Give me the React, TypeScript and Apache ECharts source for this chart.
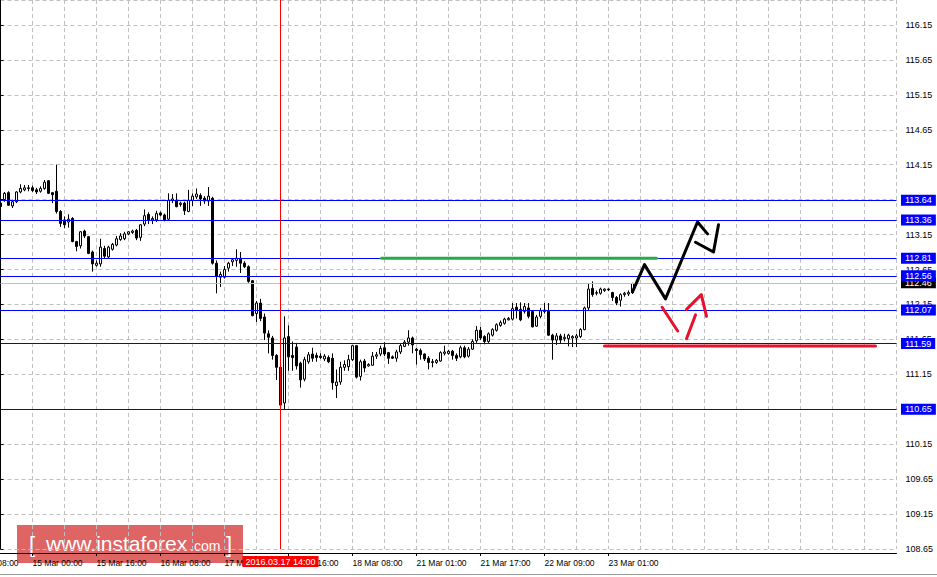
import React, { useEffect, useRef } from "react";
import * as echarts from "echarts";

// Hourly bars: [open, high, low, close]
const ohlc: [number, number, number, number][] = [
  [113.60, 113.63, 113.53, 113.55], [113.65, 113.76, 113.62, 113.74], [113.75, 113.77, 113.56, 113.57], [113.56, 113.65, 113.53, 113.62],
  [113.62, 113.77, 113.60, 113.76], [113.76, 113.87, 113.74, 113.81], [113.79, 113.86, 113.77, 113.82], [113.81, 113.86, 113.77, 113.82],
  [113.82, 113.85, 113.76, 113.78], [113.79, 113.82, 113.73, 113.76], [113.77, 113.84, 113.75, 113.81], [113.81, 113.93, 113.79, 113.90],
  [113.92, 113.93, 113.73, 113.74], [113.75, 113.76, 113.60, 113.72], [113.77, 114.15, 113.45, 113.48], [113.48, 113.50, 113.26, 113.31],
  [113.36, 113.41, 113.24, 113.29], [113.33, 113.44, 113.25, 113.37], [113.38, 113.40, 113.04, 113.05], [113.05, 113.06, 112.91, 112.98],
  [112.99, 113.20, 112.95, 113.19], [113.20, 113.22, 113.10, 113.13], [113.12, 113.13, 112.87, 112.88], [112.90, 112.92, 112.62, 112.73],
  [112.71, 112.78, 112.69, 112.74], [112.73, 113.09, 112.69, 112.97], [112.95, 112.99, 112.80, 112.84], [112.83, 112.99, 112.81, 112.97],
  [112.94, 113.03, 112.92, 113.01], [113.00, 113.13, 112.98, 113.09], [113.08, 113.17, 113.06, 113.13], [113.09, 113.19, 113.07, 113.16],
  [113.16, 113.20, 113.14, 113.19], [113.18, 113.22, 113.16, 113.20], [113.21, 113.23, 113.07, 113.10], [113.11, 113.30, 113.06, 113.29],
  [113.30, 113.51, 113.27, 113.42], [113.44, 113.47, 113.30, 113.35], [113.36, 113.41, 113.30, 113.38], [113.36, 113.49, 113.33, 113.45],
  [113.46, 113.48, 113.41, 113.43], [113.43, 113.45, 113.34, 113.36], [113.37, 113.74, 113.36, 113.64], [113.64, 113.73, 113.60, 113.66],
  [113.64, 113.74, 113.54, 113.55], [113.58, 113.62, 113.55, 113.60], [113.60, 113.62, 113.43, 113.49], [113.48, 113.79, 113.47, 113.64],
  [113.64, 113.74, 113.56, 113.70], [113.69, 113.81, 113.66, 113.73], [113.71, 113.74, 113.56, 113.66], [113.67, 113.70, 113.59, 113.63],
  [113.63, 113.83, 113.56, 113.70], [113.67, 113.69, 112.72, 112.74], [112.74, 112.78, 112.31, 112.55], [112.54, 112.62, 112.40, 112.58],
  [112.54, 112.70, 112.52, 112.65], [112.67, 112.76, 112.62, 112.74], [112.76, 112.81, 112.70, 112.79], [112.78, 112.94, 112.69, 112.81],
  [112.81, 112.90, 112.60, 112.74], [112.74, 112.77, 112.67, 112.69], [112.69, 112.71, 112.46, 112.48], [112.49, 112.50, 111.98, 111.99],
  [112.02, 112.20, 111.90, 112.17], [112.17, 112.23, 111.91, 111.95], [111.97, 112.02, 111.64, 111.74], [111.73, 111.78, 111.45, 111.68],
  [111.67, 111.70, 111.36, 111.42], [111.42, 111.44, 111.07, 111.25], [111.25, 111.27, 110.70, 110.71], [110.74, 111.98, 110.64, 111.67],
  [111.69, 111.85, 111.20, 111.40], [111.42, 111.62, 111.20, 111.39], [111.54, 111.60, 111.22, 111.27], [111.31, 111.33, 110.96, 111.07],
  [111.08, 111.40, 111.05, 111.36], [111.33, 111.47, 111.30, 111.43], [111.44, 111.53, 111.33, 111.38], [111.42, 111.46, 111.33, 111.39],
  [111.41, 111.45, 111.37, 111.39], [111.37, 111.44, 111.34, 111.41], [111.39, 111.42, 111.31, 111.33], [111.38, 111.45, 110.93, 111.03],
  [110.99, 111.22, 110.81, 111.04], [111.04, 111.33, 111.00, 111.25], [111.25, 111.35, 111.20, 111.29], [111.26, 111.43, 111.20, 111.36],
  [111.36, 111.57, 111.34, 111.56], [111.56, 111.57, 111.09, 111.11], [111.12, 111.36, 111.06, 111.33], [111.34, 111.37, 111.18, 111.24],
  [111.27, 111.31, 111.26, 111.29], [111.28, 111.47, 111.27, 111.41], [111.41, 111.47, 111.37, 111.43], [111.44, 111.56, 111.41, 111.52],
  [111.53, 111.61, 111.41, 111.44], [111.46, 111.47, 111.30, 111.38], [111.40, 111.42, 111.37, 111.38], [111.38, 111.50, 111.33, 111.47],
  [111.47, 111.59, 111.44, 111.56], [111.55, 111.64, 111.54, 111.61], [111.61, 111.78, 111.56, 111.67], [111.67, 111.69, 111.45, 111.57],
  [111.51, 111.53, 111.29, 111.49], [111.49, 111.52, 111.36, 111.43], [111.44, 111.45, 111.34, 111.37], [111.38, 111.41, 111.22, 111.32],
  [111.33, 111.37, 111.25, 111.32], [111.32, 111.37, 111.30, 111.35], [111.34, 111.48, 111.33, 111.46], [111.45, 111.56, 111.42, 111.47],
  [111.45, 111.50, 111.43, 111.48], [111.48, 111.50, 111.36, 111.42], [111.42, 111.45, 111.34, 111.38], [111.40, 111.56, 111.38, 111.53],
  [111.53, 111.56, 111.38, 111.40], [111.41, 111.54, 111.39, 111.51], [111.51, 111.65, 111.50, 111.62], [111.63, 111.84, 111.60, 111.78],
  [111.78, 111.83, 111.64, 111.67], [111.69, 111.71, 111.58, 111.62], [111.62, 111.75, 111.60, 111.73], [111.71, 111.81, 111.69, 111.79],
  [111.78, 111.88, 111.76, 111.86], [111.85, 111.92, 111.83, 111.89], [111.88, 111.96, 111.86, 111.94], [111.93, 111.97, 111.92, 111.95],
  [111.94, 112.17, 111.92, 112.09], [112.11, 112.17, 111.95, 112.07], [112.08, 112.18, 111.91, 111.93], [112.05, 112.17, 112.02, 112.12],
  [112.10, 112.17, 111.95, 111.98], [112.05, 112.07, 111.82, 111.83], [111.84, 112.00, 111.83, 111.97], [111.98, 112.10, 111.95, 112.06],
  [112.07, 112.17, 112.02, 112.05], [112.06, 112.17, 111.70, 111.71], [111.71, 111.73, 111.36, 111.64], [111.64, 111.74, 111.57, 111.70],
  [111.70, 111.73, 111.59, 111.64], [111.66, 111.73, 111.62, 111.68], [111.66, 111.73, 111.55, 111.71], [111.67, 111.71, 111.54, 111.69],
  [111.67, 111.73, 111.54, 111.70], [111.69, 111.81, 111.67, 111.79], [111.79, 112.12, 111.78, 112.10], [112.10, 112.45, 112.07, 112.37],
  [112.38, 112.48, 112.26, 112.29], [112.31, 112.35, 112.28, 112.32], [112.31, 112.39, 112.29, 112.37], [112.35, 112.38, 112.33, 112.37],
  [112.37, 112.38, 112.34, 112.36], [112.32, 112.33, 112.20, 112.25], [112.25, 112.27, 112.14, 112.17], [112.21, 112.31, 112.12, 112.29],
  [112.29, 112.33, 112.26, 112.31], [112.30, 112.35, 112.27, 112.32], [112.32, 112.46, 112.30, 112.45],
];

const SLOT_COUNT = 225; // bars + empty space to the right
const categories = Array.from({ length: SLOT_COUNT }, (_, i) => String(i));

const tickLabels: [number, string][] = [
  [8, "15 Mar 00:00"], [24, "15 Mar 16:00"], [40, "16 Mar 08:00"], [56, "17 Mar 00:00"],
  [72, "17 Mar 16:00"], [88, "18 Mar 08:00"], [104, "21 Mar 01:00"], [120, "21 Mar 17:00"],
  [136, "22 Mar 09:00"], [152, "23 Mar 01:00"],
];
const leftCutLabel = "14 Mar 08:00";

const priceMin = 108.65;
const priceMax = 116.507; // top edge of the visible price window
const priceStep = 0.5;

const levels = [113.64, 113.36, 112.81, 112.56, 112.07, 111.59, 110.65];
const bidPrice = 112.46;
const markerIndex = 70;
const markerLabel = "2016.03.17 14:00";

const greenLine = [[95.25, 112.81], [164, 112.81]];
const redLine = [[151, 111.555], [218.75, 111.555]];
const blackPath1 = [[158, 112.33], [161, 112.72], [166.25, 112.23], [174.25, 113.33], [176.75, 113.16]];
const blackPath2 = [[173.75, 113.04], [178.25, 112.9], [179.5, 113.29]];
const redPath1 = [[165.4, 112.11], [169.3, 111.77]];
const redPath2 = [[171.5, 111.66], [173.75, 112.0]];
const redPath3 = [[171.5, 112.08], [175.2, 112.29], [176.5, 111.98]];

const FONT = "Liberation Sans";

export default function App() {
  const ref = useRef<HTMLDivElement>(null);
  useEffect(() => {
    const chart = echarts.init(ref.current!, undefined, { renderer: "svg" });
    const labelMap: Record<number, string> = {};
    tickLabels.forEach(([i, t]) => (labelMap[i] = t));
    const isTick = (idx: number) => labelMap[idx] !== undefined;

    const levelLines = levels.map((v) => ({
      yAxis: v,
      lineStyle: { color: "#0000ff", width: 1, type: "solid" },
      label: {
        show: true,
        position: "end",
        distance: 4.5,
        formatter: v.toFixed(2),
        color: "#fff",
        backgroundColor: "#0000ff",
        padding: [1, 4, 1, 4],
        fontSize: 9,
        fontFamily: FONT,
      },
    }));

    const lineSeries = (data: number[][], color: string, z = 5) => ({
      type: "line",
      xAxisIndex: 1,
      data,
      showSymbol: false,
      symbol: "none",
      silent: true,
      z,
      lineStyle: { color, width: 3, cap: "round", join: "round" },
    });

    const option: any = {
      animation: false,
      backgroundColor: "#ffffff",
      textStyle: { fontFamily: FONT },
      grid: { left: 0.5, right: 40.5, top: 0, bottom: 28, outerBoundsMode: "none" },
      xAxis: [
        {
          type: "category",
          data: categories,
          boundaryGap: false,
          offset: 4,
          axisLine: { lineStyle: { color: "#000", width: 1 } },
          axisTick: { interval: isTick, length: 3, lineStyle: { color: "#000" } },
          axisLabel: {
            interval: isTick,
            formatter: (_v: string, idx: number) => labelMap[idx] ?? "",
            align: "left",
            fontSize: 8.5,
            color: "#000",
            margin: 5,
            fontFamily: FONT,
          },
          splitLine: { show: true, interval: 7, lineStyle: { color: "#c0c0c0", type: [4, 3], width: 1 } },
        },
        { type: "value", min: 0, max: SLOT_COUNT - 1, show: false },
      ],
      yAxis: {
        type: "value",
        position: "right",
        min: priceMin,
        max: priceMax,
        interval: priceStep,
        offset: 3,
        axisLine: { show: true, lineStyle: { color: "#000" } },
        axisTick: { show: true, length: 3, lineStyle: { color: "#000" } },
        axisLabel: {
          color: "#000",
          fontSize: 9,
          margin: 6,
          fontFamily: FONT,
          showMaxLabel: false,
          formatter: (v: number) => (v > priceMax - 0.01 ? "" : v.toFixed(2)),
        },
        splitLine: { show: true, lineStyle: { color: "#c0c0c0", type: [4, 3], width: 1 } },
      },
      series: [
        {
          type: "candlestick",
          data: ohlc.map(([o, h, l, c]) => [o, c, l, h]),
          barWidth: 2,
          itemStyle: { color: "#ffffff", color0: "#000000", borderColor: "#000000", borderColor0: "#000000", borderWidth: 1 },
          markLine: {
            silent: true,
            symbol: "none",
            animation: false,
            data: [
              {
                yAxis: bidPrice,
                lineStyle: { color: "#c0c0c0", width: 1, type: "solid" },
                label: {
                  show: true, position: "end", distance: 4.5, formatter: bidPrice.toFixed(2), color: "#fff",
                  backgroundColor: "#000", padding: [1, 4, 1, 4], fontSize: 9, fontFamily: FONT,
                },
              },
              ...levelLines,
              {
                xAxis: String(markerIndex),
                lineStyle: { color: "#ff0000", width: 1, type: "solid" },
                label: {
                  show: true, position: "start", distance: 7, formatter: markerLabel, color: "#fff",
                  backgroundColor: "#ff0000", padding: [1, 3, 1, 3], fontSize: 9, fontFamily: FONT,
                },
              },
            ],
          },
        },
        lineSeries(greenLine, "#2aa84a"),
        lineSeries(redLine, "#e8102a"),
        lineSeries(blackPath1, "#000000", 6),
        lineSeries(blackPath2, "#000000", 6),
        lineSeries(redPath1, "#e8102a", 6),
        lineSeries(redPath2, "#e8102a", 6),
        lineSeries(redPath3, "#e8102a", 6),
      ],
      graphic: [
        {
          type: "text", x: -31.5, y: 558, z: 0,
          style: { text: leftCutLabel, font: `8.5px "${FONT}"`, fill: "#000", verticalAlign: "top" },
        },
        {
          type: "line", z: 0, shape: { x1: 0, y1: 574.5, x2: 937, y2: 574.5 },
          style: { stroke: "#9a9a9a", lineWidth: 1 },
        },
        {
          type: "group", z: 1,
          children: [
            { type: "rect", shape: { x: 17, y: 525, width: 226, height: 38 }, style: { fill: "rgba(210,40,40,0.72)" } },
            { type: "text", x: 29, y: 544, style: { text: "[", font: `22px "${FONT}"`, fill: "#fff", verticalAlign: "middle" } },
            { type: "text", x: 46, y: 543, style: { text: "www.instaforex", font: `21px "${FONT}"`, fill: "#fff", verticalAlign: "middle" } },
            { type: "text", x: 190, y: 545.5, style: { text: ".com", font: `14px "${FONT}"`, fill: "#fff", verticalAlign: "middle" } },
            { type: "text", x: 226, y: 544, style: { text: "]", font: `22px "${FONT}"`, fill: "#fff", verticalAlign: "middle" } },
          ],
        },
      ],
    };
    chart.setOption(option);
    return () => chart.dispose();
  }, []);
  return (
    <div
      ref={ref}
      style={{ position: "fixed", left: 0, top: 0, width: 937, height: 577, background: "#fff" }}
    />
  );
}
